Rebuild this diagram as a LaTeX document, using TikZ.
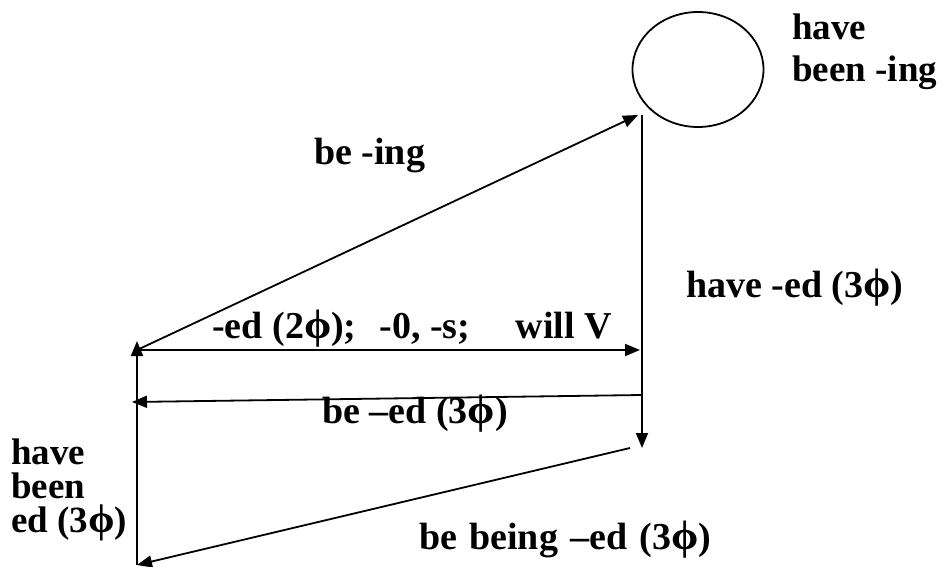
\documentclass[tikz,border=0pt]{standalone}
\usepackage{fontspec}
\setmainfont{Liberation Serif}
\usetikzlibrary{arrows.meta,shapes.geometric}
\newcommand{\myphi}{\scalebox{1.15}[1.08]{ϕ}}
\begin{document}
\begin{tikzpicture}[x=1pt,y=-1pt,
  conn/.style={line width=1.8pt,-{Triangle[length=15pt,width=12pt]}},
  lbl/.style={anchor=base west,inner sep=0pt,font=\fontsize{38}{38}\selectfont\bfseries},
  stack/.style={lbl,align=left,font=\fontsize{37}{#1}\selectfont\bfseries},
  loop/.style={draw,ellipse,line width=1.8pt,minimum width=131pt,minimum height=115pt,inner sep=0pt}]
\useasboundingbox (0,0) rectangle (943,567);
% points
\coordinate (TL) at (137,350);
\coordinate (TLup) at (137,341);
\coordinate (BL) at (137,565);
\coordinate (TR) at (642,115);
\coordinate (TRtip) at (638,115);
\coordinate (H) at (640,350);
\coordinate (MR) at (642,395);
\coordinate (ML) at (132,402);
\coordinate (BR) at (642,448);
\coordinate (BRs) at (630,448);
\node[loop] (C) at (698,69.5) {};
% connectors
\draw[conn] (BL) -- (TLup);
\draw[conn] (TL) -- (H);
\draw[conn] (TL) -- (TRtip);
\draw[conn] (TR) -- (BR);
\draw[conn] (MR) -- (ML);
\draw[conn] (BRs) -- (BL);
% labels
\node[stack=42, anchor=north west] (l1) at (792,14) {have\\been -ing};
\node[lbl] (l2) at (314,165) {be -ing};
\node[lbl] (l3) at (686,297) {have -ed (3\myphi)};
\node[lbl] (l4) at (212,338) {-ed (2\myphi);\hspace{0.6em}-0, -s;\hspace{1.2em}will V};
\node[lbl] (l5) at (322,423) {be –ed (3\myphi)};
\node[stack=34, anchor=north west] (l6) at (11,439) {have\\been\\ed (3\myphi)};
\node[lbl] (l7) at (419,549) {be\hspace{0.32em}being\hspace{0.32em}–ed\hspace{0.32em}(3\myphi)};
\end{tikzpicture}
\end{document}
